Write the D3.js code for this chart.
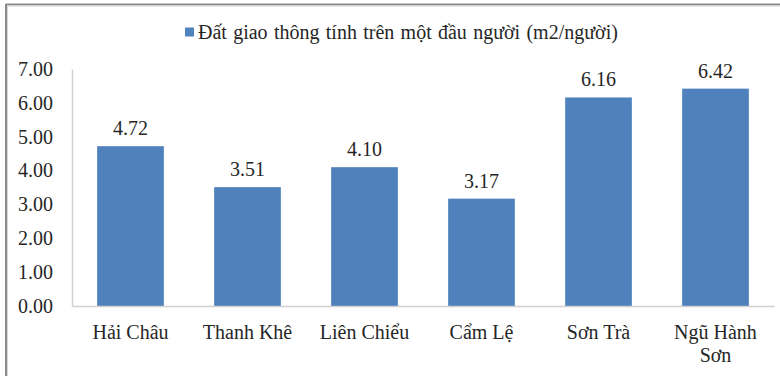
<!DOCTYPE html>
<html>
<head>
<meta charset="utf-8">
<script src="https://cdn.jsdelivr.net/npm/d3@7"></script>
</head>
<body style="margin:0">
<svg id="chart" width="780" height="376" font-family="Liberation Serif" style="font-family: Liberation Serif; display: block"></svg>
<script>
// Districts of Đà Nẵng and transport land per person (m2/người)
const districts = ["Hải Châu", "Thanh Khê", "Liên Chiểu", "Cẩm Lệ", "Sơn Trà", "Ngũ Hành Sơn"];
const landPerPerson = [4.72, 3.51, 4.10, 3.17, 6.16, 6.42];
const yTicks = [0, 1, 2, 3, 4, 5, 6, 7];
const seriesName = "Đất giao thông tính trên một đầu người (m2/người)";

const W = 780, H = 376;
const margin = { left: 72, right: 6, top: 69, bottom: 70 };
const barColor = "#4f81bd";
const axisColor = "#d0d0d0";
const FONT = "Liberation Serif";
const TEXT = "#262626";

const svg = d3.select("#chart");

// Frame: only top and left edges are visible
svg.append("line").attr("x1", 6).attr("x2", W).attr("y1", 4.5).attr("y2", 4.5)
  .attr("stroke", "#8a8a8a").attr("stroke-width", 2);
svg.append("line").attr("x1", 6).attr("x2", 6).attr("y1", 4).attr("y2", H)
  .attr("stroke", "#8a8a8a").attr("stroke-width", 2);
svg.append("line").attr("x1", 7.5).attr("x2", W).attr("y1", 6).attr("y2", 6)
  .attr("stroke", "#d8d8d8").attr("stroke-width", 1);
svg.append("line").attr("x1", 7.5).attr("x2", 7.5).attr("y1", 6).attr("y2", H)
  .attr("stroke", "#d8d8d8").attr("stroke-width", 1);

const x = d3.scaleBand()
  .domain(districts)
  .range([margin.left, W - margin.right])
  .paddingInner(0.43)
  .paddingOuter(0.215);

const y = d3.scaleLinear()
  .domain([0, 7])
  .range([H - margin.bottom, margin.top]);

// Y axis: tick labels only, plus a light axis line
const yAxis = d3.axisLeft(y).tickValues(yTicks).tickFormat(d3.format(".2f")).tickSize(0).tickPadding(19);
const gy = svg.append("g").attr("transform", `translate(${margin.left},0)`).call(yAxis);
gy.attr("font-family", FONT).attr("font-size", 20);
gy.select(".domain").attr("stroke", axisColor).attr("stroke-width", 1.5);
gy.selectAll("text").attr("fill", TEXT).attr("font-family", FONT).style("font-family", FONT);

// Bars
svg.append("g").selectAll("rect")
  .data(districts)
  .join("rect")
  .attr("x", d => x(d))
  .attr("width", x.bandwidth())
  .attr("y", (d, i) => y(landPerPerson[i]))
  .attr("height", (d, i) => y(0) - y(landPerPerson[i]))
  .attr("fill", barColor);

// X axis line
const xAxis = d3.axisBottom(x).tickSize(0).tickFormat("");
const gx = svg.append("g").attr("transform", `translate(0,${y(0)})`).call(xAxis);
gx.attr("font-family", FONT);
gx.select(".domain").attr("stroke", axisColor).attr("stroke-width", 1.5);

// Category labels (wrapped to two lines where needed)
const labelLines = d => d === "Ngũ Hành Sơn" ? ["Ngũ Hành", "Sơn"] : [d];
const lab = svg.append("g").attr("font-family", FONT).selectAll("text")
  .data(districts)
  .join("text")
  .attr("x", d => x(d) + x.bandwidth() / 2)
  .attr("y", y(0) + 33)
  .attr("text-anchor", "middle")
  .attr("font-size", 20)
  .attr("fill", TEXT)
  .attr("font-family", FONT)
  .style("font-family", FONT);
lab.selectAll("tspan")
  .data(d => labelLines(d).map(t => ({ t, x: x(d) + x.bandwidth() / 2 })))
  .join("tspan")
  .attr("x", d => d.x)
  .attr("dy", (d, i) => i === 0 ? 0 : 23)
  .text(d => d.t);

// Value labels
svg.append("g").attr("font-family", FONT).selectAll("text")
  .data(districts)
  .join("text")
  .attr("x", d => x(d) + x.bandwidth() / 2)
  .attr("y", (d, i) => y(landPerPerson[i]) - 11)
  .attr("text-anchor", "middle")
  .attr("font-size", 20)
  .attr("fill", TEXT)
  .attr("font-family", FONT)
  .style("font-family", FONT)
  .text((d, i) => d3.format(".2f")(landPerPerson[i]));

// Legend
const lg = svg.append("g").attr("font-family", FONT);
lg.append("rect").attr("x", 185).attr("y", 27.5).attr("width", 9).attr("height", 9).attr("fill", barColor);
lg.append("text").attr("x", 198).attr("y", 39)
  .attr("font-size", 20)
  .attr("word-spacing", 1.3)
  .attr("fill", TEXT)
  .attr("font-family", FONT)
  .style("font-family", FONT)
  .text(seriesName);
</script>
</body>
</html>
